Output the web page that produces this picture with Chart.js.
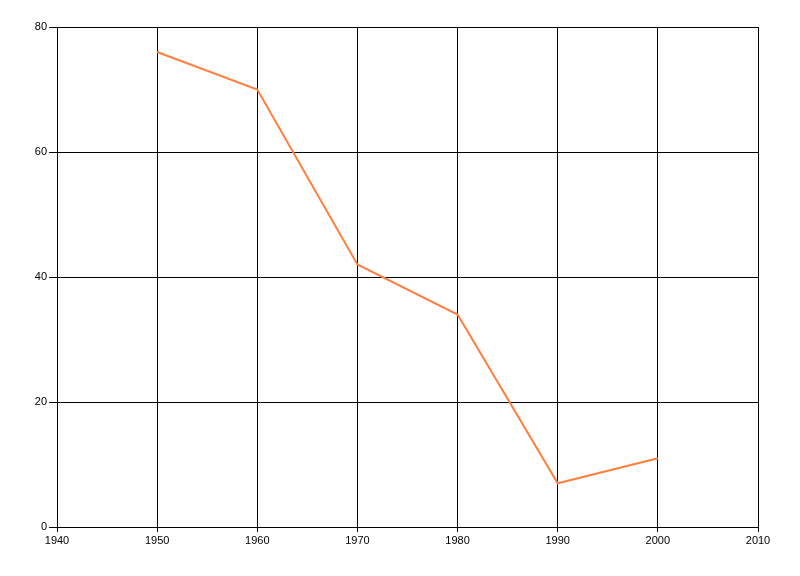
<!DOCTYPE html>
<html>
<head>
<meta charset="utf-8">
<script src="https://cdn.jsdelivr.net/npm/chart.js@4"></script>
<style>
  html, body { margin: 0; padding: 0; background: #fff; }
  #wrap { width: 800px; height: 576px; }
</style>
</head>
<body>
<div id="wrap"><canvas id="lineChart" width="800" height="576"></canvas></div>
<script>
// chart data
const years = [1950, 1960, 1970, 1980, 1990, 2000];
const values = [76, 70, 42, 34, 7, 11];
const xTicks = [1940, 1950, 1960, 1970, 1980, 1990, 2000, 2010];
const yTicks = [0, 20, 40, 60, 80];

function initLineChart() {
    const ctx = document.getElementById('lineChart').getContext('2d');

    new Chart(ctx, {
        type: 'line',
        data: {
            datasets: [{
                data: years.map((y, i) => ({ x: y, y: values[i] })),
                borderColor: 'rgb(255, 127, 64)',
                borderWidth: 2,
                pointRadius: 0,
                tension: 0,
                fill: false
            }]
        },
        options: {
            responsive: false,
            animation: false,
            layout: {
                padding: { top: 27, right: 42, bottom: 0, left: 0 }
            },
            plugins: {
                legend: { display: false },
                tooltip: { enabled: false }
            },
            scales: {
                x: {
                    type: 'linear',
                    min: xTicks[0],
                    max: xTicks[xTicks.length - 1],
                    afterBuildTicks: function(scale) {
                        scale.ticks = xTicks.map(v => ({ value: v }));
                    },
                    afterFit: function(scale) { scale.height = 49; },
                    ticks: {
                        callback: v => String(v),
                        color: '#000',
                        padding: 2,
                        maxRotation: 0,
                        font: { family: 'Liberation Sans', size: 11 }
                    },
                    grid: {
                        color: '#000',
                        lineWidth: 1,
                        tickLength: 5,
                        drawTicks: true
                    },
                    border: { color: '#000', width: 1 }
                },
                y: {
                    min: yTicks[0],
                    max: yTicks[yTicks.length - 1],
                    afterBuildTicks: function(scale) {
                        scale.ticks = yTicks.map(v => ({ value: v }));
                    },
                    afterFit: function(scale) { scale.width = 57; },
                    ticks: {
                        color: '#000',
                        padding: 2,
                        font: { family: 'Liberation Sans', size: 11 }
                    },
                    grid: {
                        color: '#000',
                        lineWidth: 1,
                        tickLength: 8
                    },
                    border: { color: '#000', width: 1 }
                }
            }
        }
    });
}

initLineChart();
</script>
</body>
</html>
